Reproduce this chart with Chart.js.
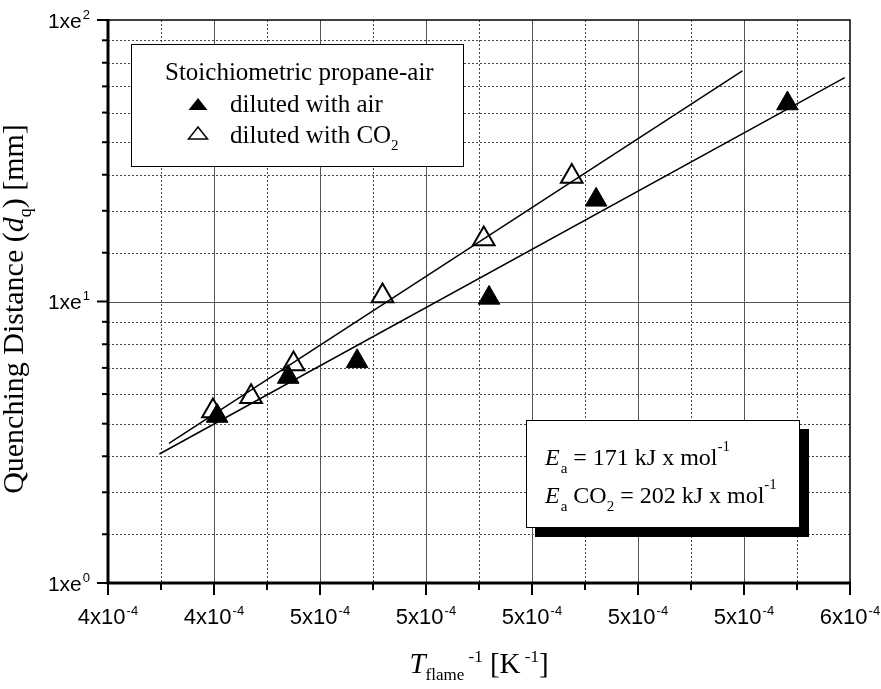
<!DOCTYPE html>
<html><head><meta charset="utf-8">
<script src="https://cdn.jsdelivr.net/npm/chart.js@4.4.1/dist/chart.umd.min.js"></script>
<style>html,body{margin:0;padding:0;background:#fff;}</style>
</head><body>
<canvas id="c" width="881" height="689"></canvas>
<script>
// ---- data ----
const airX = [0.0004406, 0.0004540, 0.0004670, 0.0004919, 0.0005121, 0.0005482];
const airY = [3.92, 5.39, 6.13, 10.30, 22.97, 50.5];
const co2X = [0.0004398, 0.0004470, 0.0004550, 0.0004718, 0.0004909, 0.0005075];
const co2Y = [4.08, 4.59, 6.00, 10.47, 16.66, 27.78];
const fitAirX = [0.0004297, 0.0005590];
const fitAirY = [2.873, 62.4];
const fitCo2X = [0.0004315, 0.0005397];
const fitCo2Y = [3.135, 65.9];

const xMajorTicks = [0.00042, 0.00044, 0.00046, 0.00048, 0.00050, 0.00052, 0.00054, 0.00056];
const xMinorTicks = [0.00043, 0.00045, 0.00047, 0.00049, 0.00051, 0.00053, 0.00055];
const xTickMantissa = ['4', '4', '5', '5', '5', '5', '5', '6'];
const xTickExponent = '-4';
const yMajorTicks = [1, 10, 100];
const yTickExponents = ['0', '1', '2'];
const yMinorTicks = [1.49, 2.10, 2.82, 3.68, 4.69, 5.81, 7.05, 8.47,
                     14.9, 21.0, 28.2, 36.8, 46.9, 58.1, 70.5, 84.7];

const legendTitle = 'Stoichiometric propane-air';
const seriesNames = ['diluted with air', 'diluted with CO'];
const eaLine1 = ' = 171 kJ x mol';
const eaLine2 = ' = 202 kJ x mol';

const SERIF = "'Liberation Serif','Times New Roman',serif";
const SANS = "'Liberation Sans',Arial,sans-serif";

function toPts(xs, ys) { return xs.map((x, i) => ({x: x, y: ys[i]})); }

function drawRich(ctx, parts, x, y, align) {
  let w = 0;
  for (const p of parts) { ctx.font = p.font; w += (p.pre || 0) + ctx.measureText(p.t).width; }
  let cx = align === 'center' ? x - w / 2 : (align === 'right' ? x - w : x);
  ctx.textAlign = 'left'; ctx.textBaseline = 'alphabetic';
  for (const p of parts) {
    ctx.font = p.font; cx += (p.pre || 0);
    ctx.fillText(p.t, cx, y + (p.dy || 0));
    cx += ctx.measureText(p.t).width;
  }
}

function tri(ctx, cx, cy, w, h, filled) {
  ctx.beginPath();
  ctx.moveTo(cx, cy - h / 2);
  ctx.lineTo(cx + w / 2, cy + h / 2);
  ctx.lineTo(cx - w / 2, cy + h / 2);
  ctx.closePath();
  if (filled) { ctx.fillStyle = '#000'; ctx.fill(); }
  else { ctx.fillStyle = '#fff'; ctx.fill(); ctx.lineWidth = 1.5; ctx.strokeStyle = '#000'; ctx.stroke(); }
}

const gridPlugin = {
  id: 'gridPlugin',
  beforeDatasetsDraw(chart) {
    const ctx = chart.ctx, a = chart.chartArea;
    const xs = chart.scales.x, ys = chart.scales.y;
    ctx.save();
    ctx.lineWidth = 1;
    ctx.strokeStyle = '#444';
    ctx.setLineDash([2, 2]);
    for (const v of xMinorTicks) {
      const px = Math.round(xs.getPixelForValue(v)) + 0.5;
      ctx.beginPath(); ctx.moveTo(px, a.top); ctx.lineTo(px, a.bottom); ctx.stroke();
    }
    for (const v of yMinorTicks) {
      const py = Math.round(ys.getPixelForValue(v)) + 0.5;
      ctx.beginPath(); ctx.moveTo(a.left, py); ctx.lineTo(a.right, py); ctx.stroke();
    }
    ctx.setLineDash([]);
    ctx.strokeStyle = '#555';
    for (const v of xMajorTicks.slice(1, -1)) {
      const px = Math.round(xs.getPixelForValue(v)) + 0.5;
      ctx.beginPath(); ctx.moveTo(px, a.top); ctx.lineTo(px, a.bottom); ctx.stroke();
    }
    for (const v of yMajorTicks.slice(1, -1)) {
      const py = Math.round(ys.getPixelForValue(v)) + 0.5;
      ctx.beginPath(); ctx.moveTo(a.left, py); ctx.lineTo(a.right, py); ctx.stroke();
    }
    ctx.restore();
  },
  afterDatasetsDraw(chart) {
    const ctx = chart.ctx, a = chart.chartArea;
    const xs = chart.scales.x, ys = chart.scales.y;
    ctx.save();
    ctx.fillStyle = '#000'; ctx.strokeStyle = '#000';

    // ---- legend box ----
    ctx.fillStyle = '#fff';
    ctx.fillRect(131, 44, 332, 122);
    ctx.lineWidth = 1; ctx.strokeStyle = '#000';
    ctx.strokeRect(131.5, 44.5, 332, 122);
    ctx.fillStyle = '#000';
    drawRich(ctx, [{t: legendTitle, font: '25px ' + SERIF}], 165, 80, 'left');
    tri(ctx, 198, 104, 19, 12, true);
    ctx.fillStyle = '#000';
    drawRich(ctx, [{t: seriesNames[0], font: '25px ' + SERIF}], 230, 112, 'left');
    tri(ctx, 198, 133, 19, 12, false);
    ctx.fillStyle = '#000';
    drawRich(ctx, [{t: seriesNames[1], font: '25px ' + SERIF},
                   {t: '2', font: '15px ' + SERIF, dy: 7}], 230, 143, 'left');

    // ---- Ea box with shadow ----
    ctx.fillStyle = '#000';
    ctx.fillRect(535, 429, 274, 108);
    ctx.fillStyle = '#fff';
    ctx.fillRect(526, 420, 274, 108);
    ctx.lineWidth = 1; ctx.strokeStyle = '#000';
    ctx.strokeRect(526.5, 420.5, 273, 107);
    ctx.fillStyle = '#000';
    drawRich(ctx, [{t: 'E', font: 'italic 24px ' + SERIF},
                   {t: 'a', font: '15px ' + SERIF, dy: 8, pre: 1},
                   {t: eaLine1, font: '24px ' + SERIF},
                   {t: '-1', font: '15px ' + SERIF, dy: -14}], 545, 465, 'left');
    drawRich(ctx, [{t: 'E', font: 'italic 24px ' + SERIF},
                   {t: 'a', font: '15px ' + SERIF, dy: 8, pre: 1},
                   {t: ' CO', font: '24px ' + SERIF},
                   {t: '2', font: '15px ' + SERIF, dy: 8},
                   {t: eaLine2, font: '24px ' + SERIF},
                   {t: '-1', font: '15px ' + SERIF, dy: -14}], 545, 503, 'left');

    // ---- frame ----
    ctx.strokeStyle = '#000';
    ctx.lineWidth = 1.5;
    ctx.beginPath(); ctx.moveTo(a.left, a.top); ctx.lineTo(a.right, a.top); ctx.lineTo(a.right, a.bottom); ctx.stroke();
    ctx.lineWidth = 3;
    ctx.beginPath(); ctx.moveTo(a.left, a.top - 1); ctx.lineTo(a.left, a.bottom); ctx.lineTo(a.right + 1, a.bottom); ctx.stroke();

    // ---- tick marks ----
    ctx.lineWidth = 2;
    for (const v of xMajorTicks) {
      const px = xs.getPixelForValue(v);
      ctx.beginPath(); ctx.moveTo(px, a.bottom); ctx.lineTo(px, a.bottom + 12); ctx.stroke();
    }
    for (const v of xMinorTicks) {
      const px = xs.getPixelForValue(v);
      ctx.beginPath(); ctx.moveTo(px, a.bottom); ctx.lineTo(px, a.bottom + 7); ctx.stroke();
    }
    for (const v of yMajorTicks) {
      const py = ys.getPixelForValue(v);
      ctx.beginPath(); ctx.moveTo(a.left, py); ctx.lineTo(a.left - 11, py); ctx.stroke();
    }
    for (const v of yMinorTicks) {
      const py = ys.getPixelForValue(v);
      ctx.beginPath(); ctx.moveTo(a.left, py); ctx.lineTo(a.left - 6, py); ctx.stroke();
    }

    // ---- tick labels ----
    ctx.fillStyle = '#000';
    xMajorTicks.forEach((v, i) => {
      const px = xs.getPixelForValue(v);
      drawRich(ctx, [{t: xTickMantissa[i] + 'x10', font: '22px ' + SANS},
                     {t: xTickExponent, font: '13px ' + SANS, dy: -9, pre: 1}], px, a.bottom + 41, 'center');
    });
    yMajorTicks.forEach((v, i) => {
      const py = ys.getPixelForValue(v);
      drawRich(ctx, [{t: '1xe', font: '21px ' + SANS},
                     {t: yTickExponents[i], font: '13px ' + SANS, dy: -9, pre: 1}], 90, py + 7.5, 'right');
    });

    // ---- axis titles ----
    drawRich(ctx, [{t: 'T', font: 'italic 29px ' + SERIF},
                   {t: 'flame', font: '17px ' + SERIF, dy: 7},
                   {t: ' -1', font: '17px ' + SERIF, dy: -11},
                   {t: ' [K', font: '29px ' + SERIF},
                   {t: ' -1', font: '17px ' + SERIF, dy: -11},
                   {t: ']', font: '29px ' + SERIF}], (a.left + a.right) / 2, 673, 'center');

    ctx.save();
    ctx.translate(23, 309);
    ctx.rotate(-Math.PI / 2);
    drawRich(ctx, [{t: 'Quenching Distance (', font: '30px ' + SERIF},
                   {t: 'd', font: 'italic 30px ' + SERIF},
                   {t: 'q', font: '18px ' + SERIF, dy: 8},
                   {t: ') [mm]', font: '30px ' + SERIF}], 0, 0, 'center');
    ctx.restore();

    ctx.restore();
  }
};

new Chart(document.getElementById('c'), {
  type: 'scatter',
  data: {
    datasets: [
      {label: 'fit air', data: toPts(fitAirX, fitAirY), showLine: true, borderColor: '#000', borderWidth: 1.5,
       pointRadius: 0, fill: false, order: 0},
      {label: 'fit CO2', data: toPts(fitCo2X, fitCo2Y), showLine: true, borderColor: '#000', borderWidth: 1.5,
       pointRadius: 0, fill: false, order: 0},
      {label: seriesNames[0], data: toPts(airX, airY), pointStyle: 'triangle', pointRadius: 12.5,
       backgroundColor: '#000', borderColor: '#000', borderWidth: 1, order: 1},
      {label: seriesNames[1], data: toPts(co2X, co2Y), pointStyle: 'triangle', pointRadius: 12.5,
       backgroundColor: '#fff', borderColor: '#000', borderWidth: 2, order: 2}
    ]
  },
  options: {
    responsive: false, animation: false, devicePixelRatio: 1,
    layout: {padding: {left: 108, right: 31, top: 20, bottom: 106}},
    plugins: {legend: {display: false}, tooltip: {enabled: false}},
    scales: {
      x: {type: 'linear', min: 0.00042, max: 0.00056,
          ticks: {display: false}, grid: {display: false, drawTicks: false}, border: {display: false}},
      y: {type: 'logarithmic', min: 1, max: 100,
          ticks: {display: false}, grid: {display: false, drawTicks: false}, border: {display: false}}
    }
  },
  plugins: [gridPlugin]
});
</script>
</body></html>
